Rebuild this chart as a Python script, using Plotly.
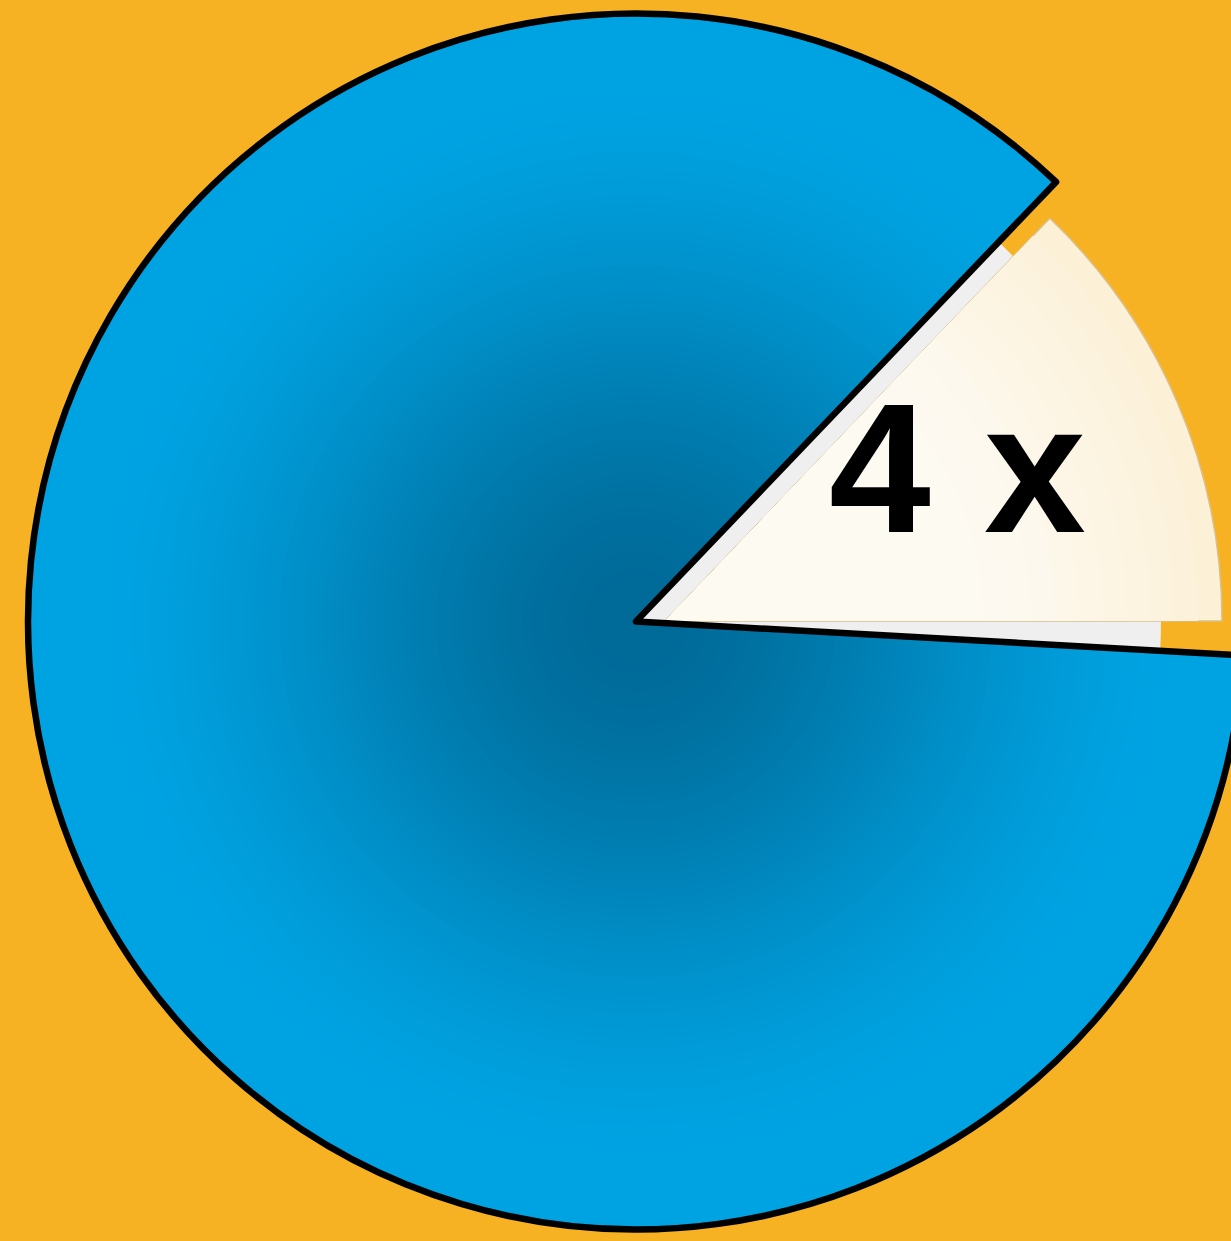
import plotly.graph_objects as go

# ---- data ----
categories = ["4x", "Rest"]
slice_values = [13.75, 86.25]        # outer pie: highlighted share vs rest
highlight_values = [12.86, 87.14]    # inner highlighted wedge
label_parts = ["4", "x"]

# ---- styling / geometry ----
W, H = 1250, 1241
CX, CY, R = 636, 621.5, 608
HX, HY, HR = 665, 621, 557
BG = "#F6B222"
EDGE = (0, 163, 226)
CENTER = (0, 106, 152)
CREAM_IN = (253, 250, 242)
CREAM_OUT = (252, 240, 214)
N_LAYERS = 70
N_CREAM = 14
TRANSP = "rgba(0,0,0,0)"


def dom(cx, cy, r):
    return dict(x=[(cx - r) / W, (cx + r) / W], y=[1 - (cy + r) / H, 1 - (cy - r) / H])


def mix(a, b, f):
    return "rgb(%d,%d,%d)" % tuple(round(x + (y - x) * f) for x, y in zip(a, b))


def blend(t):
    t = max(0.0, min(1.0, t / 0.93))
    f = t * t * (3 - 2 * t)
    return mix(CENTER, EDGE, f)


fig = go.Figure()

common = dict(labels=categories, sort=False, direction="clockwise", textinfo="none",
              hoverinfo="skip", showlegend=False)

# radial gradient of the big slice, drawn as concentric layers
for k in range(N_LAYERS):
    r = R * (1 - k / N_LAYERS)
    fig.add_trace(go.Pie(values=slice_values, rotation=43.7, domain=dom(CX, CY, r),
                         marker=dict(colors=[TRANSP, blend(r / R)], line=dict(width=0)),
                         **common))

# grey backing of the highlighted wedge
fig.add_trace(go.Pie(values=slice_values, rotation=43.7, domain=dom(CX, CY, 525),
                     marker=dict(colors=["#EFEFEF", TRANSP], line=dict(width=0)), **common))

# highlighted (cream) wedge with a soft radial gradient
for k in range(N_CREAM):
    r = HR * (1 - 0.6 * k / N_CREAM)
    f = max(0.0, (r / HR - 0.55) / 0.45) ** 1.5
    line = dict(color=["#D9C08E", TRANSP], width=[1.5, 0]) if k == 0 else dict(width=0)
    fig.add_trace(go.Pie(values=highlight_values, rotation=43.7, domain=dom(HX, HY, r),
                         marker=dict(colors=[mix(CREAM_IN, CREAM_OUT, f), TRANSP], line=line),
                         **common))

# black outline of the big slice
fig.add_trace(go.Pie(values=slice_values, rotation=43.7, domain=dom(CX, CY, R),
                     marker=dict(colors=[TRANSP, TRANSP],
                                 line=dict(color=[TRANSP, "black"], width=[0, 6.5])),
                     **common))

font = dict(family="Liberation Sans, Arial", size=183, color="black", weight="bold")
fig.add_annotation(text=label_parts[0], x=880 / W, y=1 - 469 / H, xref="paper", yref="paper",
                   xanchor="center", yanchor="middle", showarrow=False, font=font)
fig.add_annotation(text=label_parts[1], x=1035 / W, y=1 - 469 / H, xref="paper", yref="paper",
                   xanchor="center", yanchor="middle", showarrow=False, font=font)

fig.update_layout(width=W, height=H, margin=dict(l=0, r=0, t=0, b=0),
                  paper_bgcolor=BG, plot_bgcolor=BG)

fig.write_html("out.html", config={"displayModeBar": False},
               post_script="document.body.style.margin='0';document.body.style.overflow='hidden';")
